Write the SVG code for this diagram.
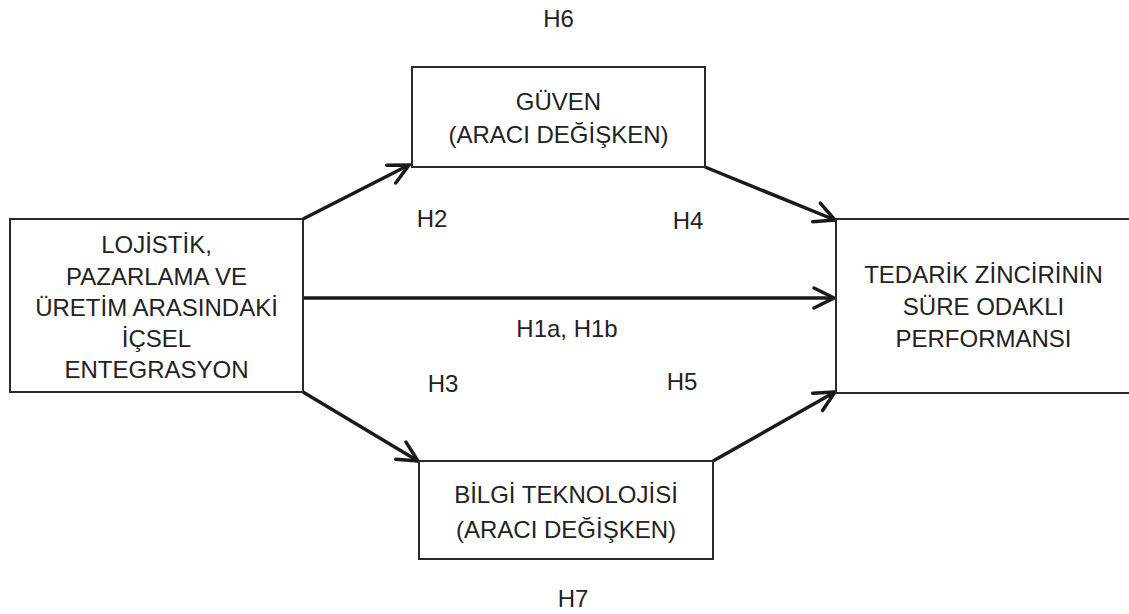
<svg xmlns="http://www.w3.org/2000/svg" width="1129" height="614" viewBox="0 0 1129 614">
<style>
  .box { fill: #ffffff; stroke: #2a2a2a; stroke-width: 2; }
  .t { font-family: "Liberation Sans", Arial, sans-serif; font-size: 24px; fill: #222222; text-anchor: middle; }
  .conn { stroke: #1a1a1a; stroke-width: 3.5; fill: none; marker-end: url(#arr); }
</style>
<defs>
  <marker id="arr" markerUnits="userSpaceOnUse" markerWidth="30" markerHeight="30" refX="22" refY="13" orient="auto" viewBox="0 0 30 30">
    <path d="M2,3 L22,13 L2,23" fill="none" stroke="#1a1a1a" stroke-width="3.5" stroke-linecap="round" stroke-linejoin="miter"/>
  </marker>
</defs>
<rect width="1129" height="614" fill="#ffffff"/>

<g id="connectors">
  <line class="conn" x1="303" y1="219" x2="409" y2="165"/>
  <line class="conn" x1="705" y1="167" x2="835" y2="220"/>
  <line class="conn" x1="303" y1="298" x2="834" y2="298"/>
  <line class="conn" x1="303" y1="392" x2="418" y2="461"/>
  <line class="conn" x1="713" y1="461" x2="835" y2="392"/>
</g>

<g id="node-left">
  <rect class="box" x="10" y="219" width="293" height="173"/>
  <text class="t" x="156.5" y="253">LOJİSTİK,</text>
  <text class="t" x="156.5" y="285">PAZARLAMA VE</text>
  <text class="t" x="156.5" y="316">ÜRETİM ARASINDAKİ</text>
  <text class="t" x="156.5" y="347">İÇSEL</text>
  <text class="t" x="156.5" y="378">ENTEGRASYON</text>
</g>

<g id="node-guven">
  <rect class="box" x="412" y="67" width="293" height="100"/>
  <text class="t" x="558.5" y="110">GÜVEN</text>
  <text class="t" x="558.5" y="143">(ARACI DEĞİŞKEN)</text>
</g>

<g id="node-bilgi">
  <rect class="box" x="419" y="461" width="294" height="98"/>
  <text class="t" x="566" y="503">BİLGİ TEKNOLOJİSİ</text>
  <text class="t" x="566" y="538">(ARACI DEĞİŞKEN)</text>
</g>

<g id="node-right">
  <rect class="box" x="836" y="219" width="300" height="174"/>
  <text class="t" x="983.5" y="283">TEDARİK ZİNCİRİNİN</text>
  <text class="t" x="983.5" y="315">SÜRE ODAKLI</text>
  <text class="t" x="983.5" y="347">PERFORMANSI</text>
</g>

<g id="labels">
  <text class="t" x="558.5" y="27">H6</text>
  <text class="t" x="432" y="227">H2</text>
  <text class="t" x="688" y="229">H4</text>
  <text class="t" x="567" y="337">H1a, H1b</text>
  <text class="t" x="443" y="392">H3</text>
  <text class="t" x="682" y="390">H5</text>
  <text class="t" x="573" y="607">H7</text>
</g>
</svg>
